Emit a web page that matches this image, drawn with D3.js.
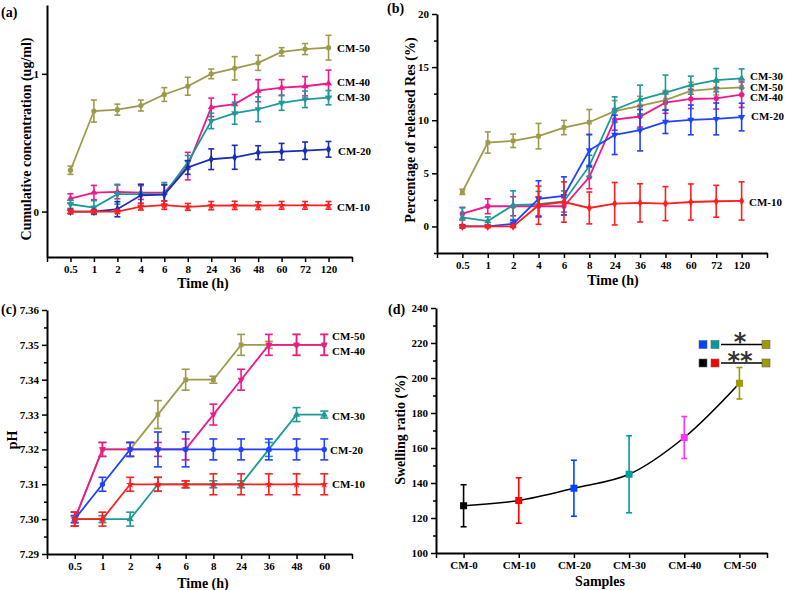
<!DOCTYPE html>
<html><head><meta charset="utf-8">
<script src="https://cdn.jsdelivr.net/npm/d3@7"></script>
<style>
body{margin:0;background:#fff}
svg{display:block}
text{font-family:"Liberation Serif","Times New Roman",serif;font-weight:bold;fill:#000}
</style>
</head><body>
<svg id="chart" width="789" height="590"></svg>
<script>
// ---------- DATA ----------
const timeLabelsAB = ["0.5","1","2","4","6","8","24","36","48","60","72","120"];
const timeLabelsC = ["0.5","1","2","4","6","8","24","36","48","60"];

// (a) Cumulative concentration (ug/ml)
const a_CM50 = [0.30,0.73,0.74,0.77,0.85,0.91,1.00,1.04,1.08,1.16,1.18,1.19];
const a_CM50_err = [0.03,0.08,0.04,0.04,0.05,0.065,0.035,0.085,0.055,0.03,0.04,0.09];
const a_CM40 = [0.094,0.138,0.143,0.138,0.138,0.33,0.757,0.78,0.878,0.90,0.91,0.93];
const a_CM40_err = [0.035,0.052,0.05,0.05,0.06,0.1,0.067,0.07,0.08,0.058,0.07,0.097];
const a_CM30 = [0.053,0.029,0.126,0.126,0.126,0.357,0.658,0.714,0.743,0.79,0.815,0.827];
const a_CM30_err = [0.03,0.05,0.072,0.07,0.085,0.05,0.056,0.08,0.09,0.055,0.06,0.052];
const a_CM20 = [0,0,0.017,0.118,0.123,0.32,0.38,0.394,0.428,0.435,0.442,0.452];
const a_CM20_err = [0.015,0.015,0.055,0.08,0.07,0.05,0.075,0.087,0.05,0.06,0.063,0.057];
const a_CM10 = [0,0,0,0.036,0.046,0.034,0.043,0.045,0.043,0.045,0.045,0.045];
const a_CM10_err = [0.012,0.012,0.012,0.025,0.03,0.025,0.03,0.03,0.028,0.028,0.028,0.028];

// (b) Percentage of released Res (%)
const b_CM50 = [3.26,7.9,8.06,8.5,9.31,9.81,10.85,11.35,11.9,12.77,12.98,13.1];
const b_CM50_err = [0.25,1.0,0.63,1.2,0.67,1.2,1.0,0.9,0.9,0.8,0.6,0.7];
const b_CM30 = [0.85,0.5,2.0,2.1,2.35,5.7,11.0,11.95,12.6,13.3,13.77,13.93];
const b_CM30_err = [0.9,0.4,1.35,1.2,1.0,1.0,1.2,1.35,1.65,0.85,1.1,0.9];
const b_CM40 = [1.2,1.9,1.9,1.9,1.9,4.65,10.06,10.35,11.65,12.0,12.05,12.4];
const b_CM40_err = [0.6,0.7,0.9,0.9,0.8,1.1,1.0,1.0,1.0,0.9,1.0,1.2];
const b_CM20 = [0,0,0.25,2.6,2.87,7.17,8.62,9.06,9.85,10.03,10.12,10.3];
const b_CM20_err = [0.15,0.1,0.3,1.7,1.8,1.5,1.85,1.95,1.1,1.4,1.5,1.3];
const b_CM10 = [0,0,0,2.0,2.3,1.74,2.14,2.22,2.15,2.3,2.37,2.4];
const b_CM10_err = [0.1,0.1,0.1,1.8,1.9,1.5,2.0,1.8,1.6,1.7,1.5,1.8];

// (c) pH
const c_CM50 = [7.30,7.32,7.32,7.33,7.34,7.34,7.35,7.35,7.35,7.35];
const c_CM50_err = [0.002,0.002,0.002,0.004,0.003,0.001,0.003,0.001,0.003,0.003];
const c_CM40 = [7.30,7.32,7.32,7.32,7.32,7.33,7.34,7.35,7.35,7.35];
const c_CM40_err = [0.002,0.002,0.002,0.002,0.003,0.003,0.003,0.003,0.003,0.003];
const c_CM30 = [7.30,7.30,7.30,7.31,7.31,7.31,7.31,7.32,7.33,7.33];
const c_CM30_err = [0.001,0.001,0.002,0.002,0.001,0.001,0.001,0.002,0.002,0.001];
const c_CM20 = [7.30,7.31,7.32,7.32,7.32,7.32,7.32,7.32,7.32,7.32];
const c_CM20_err = [0.001,0.002,0.002,0.005,0.005,0.003,0.003,0.003,0.003,0.003];
const c_CM10 = [7.30,7.30,7.31,7.31,7.31,7.31,7.31,7.31,7.31,7.31];
const c_CM10_err = [0.002,0.002,0.002,0.002,0.001,0.003,0.003,0.003,0.003,0.003];

// (d) Swelling ratio (%)
const samples = ["CM-0","CM-10","CM-20","CM-30","CM-40","CM-50"];
const swelling = [127,130,137,145,166,197];
const swellingErr = [12,13,16,22,12,9];

// ---------- DRAWING ----------
const svg = d3.select("#chart");
const OLIVE = "#9e9a4c", PINK = "#f0198c", TEAL = "#1c9a98", NAVY = "#1a2db4", BLUE = "#1f42ff", RED = "#ff1f1f";

function sym(type, rot) { return {type, rot: rot || 0}; }

function axes(g, x, y, xTicks, xLabels, yMajor, yMinor, yFmt) {
  const xa = g.append("g").attr("transform", `translate(0,${y.range()[0]})`)
    .call(d3.axisBottom(x).tickValues(xTicks).tickSize(5).tickSizeOuter(0)
      .tickFormat(i => (xLabels[i] !== undefined ? xLabels[i] : "")));
  xa.select(".domain").attr("stroke-width", 2);
  xa.selectAll(".tick line").attr("stroke-width", 1.5);
  xa.selectAll("text").attr("font-size", 11);
  if (yMinor) {
    const ym = g.append("g").attr("transform", `translate(${x.range()[0]},0)`)
      .call(d3.axisLeft(y).tickValues(yMinor).tickSize(3).tickSizeOuter(0).tickFormat(""));
    ym.select(".domain").remove();
    ym.selectAll(".tick line").attr("stroke-width", 1.5);
  }
  const ya = g.append("g").attr("transform", `translate(${x.range()[0]},0)`)
    .call(d3.axisLeft(y).tickValues(yMajor).tickSize(5).tickSizeOuter(0).tickFormat(yFmt));
  ya.select(".domain").attr("stroke-width", 2);
  ya.selectAll(".tick line").attr("stroke-width", 1.5);
  ya.selectAll("text").attr("font-size", 11);
}

function series(g, x, y, vals, errs, color, s, cap, lw) {
  const idx = d3.range(vals.length);
  const line = d3.line().x(i => x(i)).y(i => y(vals[i]));
  g.append("path").attr("d", line(idx)).attr("fill", "none").attr("stroke", color).attr("stroke-width", lw || 1.8);
  const eb = g.append("g").attr("stroke", color).attr("stroke-width", 1.6);
  idx.forEach(i => {
    const x0 = x(i), yt = y(vals[i] + errs[i]), yb = y(vals[i] - errs[i]);
    eb.append("line").attr("x1", x0).attr("x2", x0).attr("y1", yt).attr("y2", yb);
    eb.append("line").attr("x1", x0 - cap).attr("x2", x0 + cap).attr("y1", yt).attr("y2", yt);
    eb.append("line").attr("x1", x0 - cap).attr("x2", x0 + cap).attr("y1", yb).attr("y2", yb);
  });
  const symbol = d3.symbol().type(s.type).size(s.size || 22);
  g.append("g").selectAll("path").data(idx).join("path")
    .attr("d", symbol)
    .attr("transform", i => `translate(${x(i)},${y(vals[i])}) rotate(${s.rot})`)
    .attr("fill", color);
}

function label(g, txt, x, y, size) {
  g.append("text").attr("x", x).attr("y", y).attr("font-size", size || 11).text(txt);
}
function ytitle(g, txt, cx, cy) {
  g.append("text").attr("transform", `translate(${cx},${cy}) rotate(-90)`)
    .attr("text-anchor", "middle").attr("dominant-baseline", "central").attr("font-size", 14).text(txt);
}
function xtitle(g, txt, cx, by) {
  g.append("text").attr("x", cx).attr("y", by).attr("text-anchor", "middle").attr("font-size", 14).text(txt);
}

// ----- Panel (a) -----
{
  const g = svg.append("g");
  const x = d3.scaleLinear().domain([-1, 12]).range([47, 352]);
  const y = d3.scaleLinear().domain([-0.33, 1.5]).range([257, 5]);
  axes(g, x, y, d3.range(-1, 13), timeLabelsAB, [0, 1], null, d3.format("d"));
  series(g, x, y, a_CM50, a_CM50_err, OLIVE, sym(d3.symbolCircle), 3);
  series(g, x, y, a_CM40, a_CM40_err, PINK, sym(d3.symbolTriangle), 3);
  series(g, x, y, a_CM30, a_CM30_err, TEAL, sym(d3.symbolTriangle, 180), 3);
  series(g, x, y, a_CM20, a_CM20_err, NAVY, sym(d3.symbolDiamond), 3);
  series(g, x, y, a_CM10, a_CM10_err, RED, sym(d3.symbolStar), 3);
  label(g, "CM-50", 337, 52);
  label(g, "CM-40", 337, 86);
  label(g, "CM-30", 337, 101);
  label(g, "CM-20", 338, 155);
  label(g, "CM-10", 337, 211);
  ytitle(g, "Cumulative concentration (ug/ml)", 26, 139);
  xtitle(g, "Time (h)", 203, 288);
  label(g, "(a)", 1, 17, 14);
}

// ----- Panel (b) -----
{
  const g = svg.append("g");
  const x = d3.scaleLinear().domain([-1, 12]).range([437, 767]);
  const y = d3.scaleLinear().domain([-2.5, 20]).range([253, 14]);
  axes(g, x, y, d3.range(-1, 13), timeLabelsAB, [0, 5, 10, 15, 20], [-2.5, 2.5, 7.5, 12.5, 17.5], d3.format("d"));
  series(g, x, y, b_CM50, b_CM50_err, OLIVE, sym(d3.symbolSquare), 3);
  series(g, x, y, b_CM40, b_CM40_err, PINK, sym(d3.symbolCircle), 3);
  series(g, x, y, b_CM30, b_CM30_err, TEAL, sym(d3.symbolTriangle), 3);
  series(g, x, y, b_CM20, b_CM20_err, BLUE, sym(d3.symbolTriangle, 180), 3);
  series(g, x, y, b_CM10, b_CM10_err, RED, sym(d3.symbolDiamond), 3);
  label(g, "CM-30", 750, 80);
  label(g, "CM-50", 750, 91);
  label(g, "CM-40", 750, 101);
  label(g, "CM-20", 751, 120);
  label(g, "CM-10", 749, 206);
  ytitle(g, "Percentage of released Res (%)", 410, 130);
  xtitle(g, "Time (h)", 613, 285);
  label(g, "(b)", 387, 13, 14);
}

// ----- Panel (c) -----
{
  const g = svg.append("g");
  const x = d3.scaleLinear().domain([-1, 10]).range([47, 352]);
  const y = d3.scaleLinear().domain([7.29, 7.36]).range([554, 310]);
  axes(g, x, y, d3.range(-1, 11), timeLabelsC, d3.range(0, 8).map(i => 7.29 + i * 0.01),
       d3.range(0, 7).map(i => 7.295 + i * 0.01), d3.format(".2f"));
  series(g, x, y, c_CM50, c_CM50_err, OLIVE, sym(d3.symbolSquare), 4);
  series(g, x, y, c_CM40, c_CM40_err, PINK, sym(d3.symbolTriangle, 180), 4);
  series(g, x, y, c_CM30, c_CM30_err, TEAL, sym(d3.symbolTriangle), 4);
  series(g, x, y, c_CM20, c_CM20_err, BLUE, sym(d3.symbolCircle), 4);
  series(g, x, y, c_CM10, c_CM10_err, RED, sym(d3.symbolStar), 4);
  label(g, "CM-50", 332, 340);
  label(g, "CM-40", 332, 355);
  label(g, "CM-30", 332, 420);
  label(g, "CM-20", 330, 454);
  label(g, "CM-10", 332, 488);
  ytitle(g, "pH", 12, 440);
  xtitle(g, "Time (h)", 203, 588);
  label(g, "(c)", 1, 314, 14);
}

// ----- Panel (d) -----
{
  const g = svg.append("g");
  const x = d3.scaleLinear().domain([-0.5, 5.5]).range([436, 767]);
  const y = d3.scaleLinear().domain([100, 240]).range([553, 308]);
  axes(g, x, y, [-0.5, 0, 1, 2, 3, 4, 5, 5.5], samples, d3.range(100, 241, 20), d3.range(110, 240, 20), d3.format("d"));
  const colors = ["#000000", "#ff0000", "#0044ff", "#009c9c", "#ff33ff", "#9e9a00"];
  const idx = d3.range(samples.length);
  g.append("path").attr("d", d3.line().curve(d3.curveCatmullRom).x(i => x(i)).y(i => y(swelling[i]))(idx))
    .attr("fill", "none").attr("stroke", "#000").attr("stroke-width", 1.6);
  idx.forEach(i => {
    const x0 = x(i), yt = y(swelling[i] + swellingErr[i]), yb = y(swelling[i] - swellingErr[i]);
    const eg = g.append("g").attr("stroke", colors[i]).attr("stroke-width", 1.6);
    eg.append("line").attr("x1", x0).attr("x2", x0).attr("y1", yt).attr("y2", yb);
    eg.append("line").attr("x1", x0 - 3).attr("x2", x0 + 3).attr("y1", yt).attr("y2", yt);
    eg.append("line").attr("x1", x0 - 3).attr("x2", x0 + 3).attr("y1", yb).attr("y2", yb);
    g.append("rect").attr("x", x0 - 3.5).attr("y", y(swelling[i]) - 3.5).attr("width", 7).attr("height", 7)
      .attr("fill", colors[i]);
  });
  // significance marks
  const sq = (cx, cy, c) => g.append("rect").attr("x", cx - 4).attr("y", cy - 4).attr("width", 8).attr("height", 8)
    .attr("fill", c).attr("stroke", "#666").attr("stroke-width", 0.6);
  sq(703, 344.5, colors[2]); sq(715, 344.5, colors[3]); sq(766, 344.5, colors[5]);
  g.append("line").attr("x1", 721).attr("x2", 762).attr("y1", 344.5).attr("y2", 344.5).attr("stroke", "#000").attr("stroke-width", 1.5);
  g.append("text").attr("x", 740).attr("y", 350).attr("text-anchor", "middle").attr("font-size", 24)
    .style("font-family", "DejaVu Sans").style("font-weight", "bold").style("fill", "#333").text("*");
  sq(703, 363, colors[0]); sq(715, 363, colors[1]); sq(766, 363, colors[5]);
  g.append("line").attr("x1", 721).attr("x2", 762).attr("y1", 363).attr("y2", 363).attr("stroke", "#000").attr("stroke-width", 1.5);
  g.append("text").attr("x", 740).attr("y", 369).attr("text-anchor", "middle").attr("font-size", 24)
    .style("font-family", "DejaVu Sans").style("font-weight", "bold").style("fill", "#333").text("**");
  ytitle(g, "Swelling ratio (%)", 400, 430);
  xtitle(g, "Samples", 600, 586);
  label(g, "(d)", 388, 314, 14);
}
</script>
</body></html>
